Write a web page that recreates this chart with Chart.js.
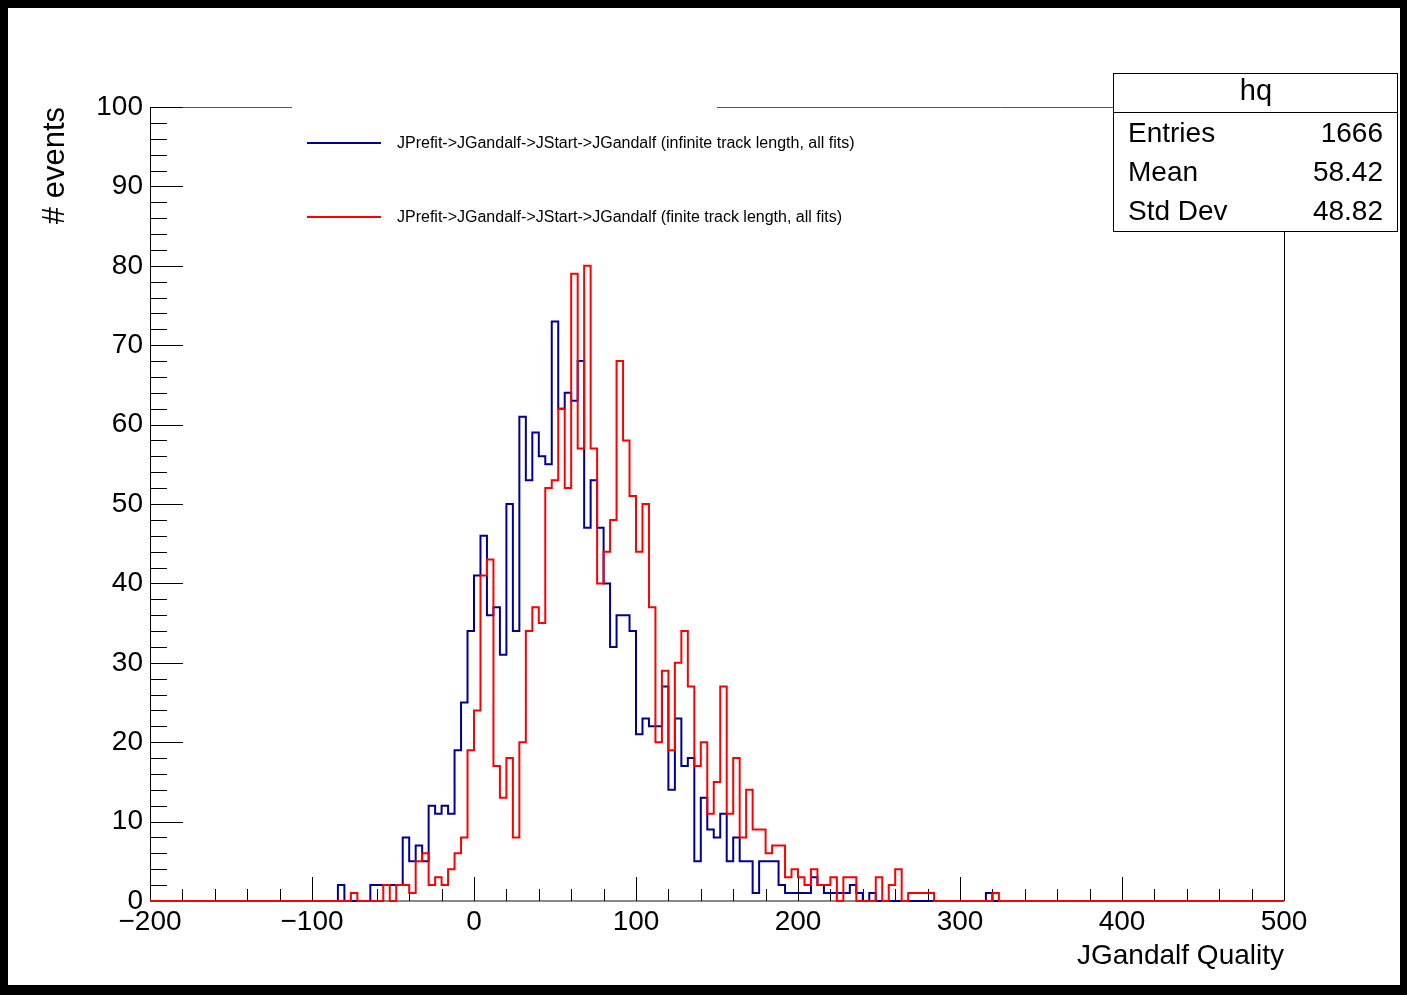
<!DOCTYPE html>
<html>
<head>
<meta charset="utf-8">
<script src="https://cdn.jsdelivr.net/npm/chart.js@4.4.1/dist/chart.umd.min.js"></script>
<style>
  html, body { margin: 0; padding: 0; background: #000; }
  canvas { display: block; }
</style>
</head>
<body>
<canvas id="c" width="1407" height="995"></canvas>
<script>
// histogram binning: 175 bins of 4 from -200 to 500
const binLow = -200;
const binWidth = 4;

const xTicks = [-200, -100, 0, 100, 200, 300, 400, 500];
const yTicks = [0, 10, 20, 30, 40, 50, 60, 70, 80, 90, 100];

const legendLabels = [
  "JPrefit->JGandalf->JStart->JGandalf (infinite track length, all fits)",
  "JPrefit->JGandalf->JStart->JGandalf (finite track length, all fits)"
];
const statsTitle = "hq";
const statsNames = ["Entries", "Mean", "Std Dev"];
const statsValues = ["1666", "58.42", "48.82"];

// counts per bin, one row = 25 bins = 100 units
const infiniteCounts = [
  0, 0, 0, 0, 0, 0, 0, 0, 0, 0, 0, 0, 0, 0, 0, 0, 0, 0, 0, 0, 0, 0, 0, 0, 0,
  0, 0, 0, 0, 2, 0, 0, 0, 0, 2, 2, 2, 2, 2, 8, 5, 7, 5, 12, 11, 12, 11, 19, 25, 34,
  41, 46, 36, 37, 31, 50, 34, 61, 53, 59, 56, 55, 73, 62, 64, 63, 68, 47, 53, 47, 40, 32, 36, 36, 34,
  21, 23, 22, 22, 27, 14, 23, 17, 18, 5, 13, 9, 8, 11, 5, 8, 5, 5, 1, 5, 5, 5, 2, 1, 1,
  1, 1, 3, 2, 1, 1, 1, 1, 2, 1, 0, 1, 0, 0, 0, 0, 0, 0, 0, 0, 0, 0, 0, 0, 0,
  0, 0, 0, 0, 1, 0, 0, 0, 0, 0, 0, 0, 0, 0, 0, 0, 0, 0, 0, 0, 0, 0, 0, 0, 0,
  0, 0, 0, 0, 0, 0, 0, 0, 0, 0, 0, 0, 0, 0, 0, 0, 0, 0, 0, 0, 0, 0, 0, 0, 0
];
const finiteCounts = [
  0, 0, 0, 0, 0, 0, 0, 0, 0, 0, 0, 0, 0, 0, 0, 0, 0, 0, 0, 0, 0, 0, 0, 0, 0,
  0, 0, 0, 0, 0, 0, 1, 0, 0, 0, 0, 2, 0, 2, 2, 1, 5, 6, 2, 3, 2, 4, 6, 8, 19,
  24, 41, 43, 17, 13, 18, 8, 20, 34, 37, 35, 52, 53, 62, 52, 79, 57, 80, 57, 40, 44, 48, 68, 58, 51,
  44, 50, 37, 20, 29, 19, 30, 34, 27, 17, 20, 11, 15, 27, 11, 18, 8, 14, 9, 9, 6, 7, 7, 3, 4,
  3, 2, 4, 2, 2, 3, 0, 3, 3, 0, 0, 0, 3, 0, 2, 4, 0, 1, 1, 1, 1, 0, 0, 0, 0,
  0, 0, 0, 0, 0, 1, 0, 0, 0, 0, 0, 0, 0, 0, 0, 0, 0, 0, 0, 0, 0, 0, 0, 0, 0,
  0, 0, 0, 0, 0, 0, 0, 0, 0, 0, 0, 0, 0, 0, 0, 0, 0, 0, 0, 0, 0, 0, 0, 0, 0
];

const FONT = "'Liberation Sans', Arial, sans-serif";
const BLUE = "#000099";
const RED = "#ff0000";

// outline of a histogram: two points per bin (left and right edge)
function histPoints(counts) {
  const pts = [];
  counts.forEach((c, i) => {
    const lo = binLow + i * binWidth;
    pts.push({ x: lo, y: c }, { x: lo + binWidth, y: c });
  });
  return pts;
}

function line(ctx, x1, y1, x2, y2) {
  ctx.beginPath();
  ctx.moveTo(x1, y1);
  ctx.lineTo(x2, y2);
  ctx.stroke();
}

const rootStyle = {
  id: "rootStyle",
  beforeDraw(chart) {
    const ctx = chart.ctx;
    ctx.save();
    ctx.fillStyle = "#000";
    ctx.fillRect(0, 0, chart.width, chart.height);
    ctx.fillStyle = "#fff";
    ctx.fillRect(8, 8, 1392, 977);
    ctx.restore();
  },
  beforeDatasetsDraw(chart) {
    const { ctx, chartArea: a, scales: { x, y } } = chart;
    ctx.save();
    // frame (top is hidden behind legend box between 292 and 717)
    ctx.lineWidth = 1;
    ctx.strokeStyle = "#555";
    line(ctx, a.left, a.top + 0.5, 292, a.top + 0.5);
    line(ctx, 717, a.top + 0.5, a.right, a.top + 0.5);
    ctx.strokeStyle = "#000";
    line(ctx, a.right + 0.5, a.top, a.right + 0.5, a.bottom);
    ctx.strokeStyle = "#888";
    ctx.lineWidth = 2;
    line(ctx, a.left, a.bottom, a.right, a.bottom);
    ctx.strokeStyle = "#000";
    ctx.lineWidth = 1;
    line(ctx, a.left + 0.5, a.top, a.left + 0.5, a.bottom);

    // ticks drawn inside the frame, ROOT style
    for (let v = xTicks[0]; v <= xTicks[xTicks.length - 1]; v += 20) {
      const px = Math.round(x.getPixelForValue(v)) + 0.5;
      const len = v % 100 === 0 ? 24 : 12;
      line(ctx, px, a.bottom, px, a.bottom - len);
    }
    for (let v = yTicks[0]; v <= yTicks[yTicks.length - 1]; v += 2) {
      const py = Math.round(y.getPixelForValue(v)) + 0.5;
      const len = v % 10 === 0 ? 33 : 17;
      line(ctx, a.left, py, a.left + len, py);
    }
    ctx.restore();
  },
  afterDraw(chart) {
    const ctx = chart.ctx;
    ctx.save();
    // legend
    const colors = [BLUE, RED];
    const rows = [143, 217];
    ctx.lineWidth = 2;
    ctx.font = "16px " + FONT;
    ctx.textBaseline = "middle";
    ctx.textAlign = "left";
    legendLabels.forEach((t, i) => {
      ctx.strokeStyle = colors[i];
      line(ctx, 307, rows[i], 381, rows[i]);
      ctx.fillStyle = "#000";
      ctx.fillText(t, 397, rows[i] + 1);
    });

    // stats box
    ctx.fillStyle = "#fff";
    ctx.fillRect(1113, 73, 284, 158);
    ctx.strokeStyle = "#000";
    ctx.lineWidth = 1;
    ctx.strokeRect(1113.5, 73.5, 284, 158);
    line(ctx, 1113, 112.5, 1397, 112.5);
    ctx.fillStyle = "#000";
    ctx.font = "29px " + FONT;
    ctx.textAlign = "center";
    ctx.fillText(statsTitle, 1256, 92);
    ctx.font = "28px " + FONT;
    const ys = [134, 173, 212];
    statsNames.forEach((n, i) => {
      ctx.textAlign = "left";
      ctx.fillText(n, 1128, ys[i]);
      ctx.textAlign = "right";
      ctx.fillText(statsValues[i], 1383, ys[i]);
    });
    ctx.restore();
  }
};

new Chart(document.getElementById("c"), {
  type: "line",
  data: {
    datasets: [
      { label: legendLabels[1], data: histPoints(finiteCounts), borderColor: RED, borderWidth: 2, order: 1 },
      { label: legendLabels[0], data: histPoints(infiniteCounts), borderColor: BLUE, borderWidth: 2, order: 2 }
    ]
  },
  options: {
    responsive: false,
    animation: false,
    devicePixelRatio: 1,
    parsing: true,
    elements: { point: { radius: 0 }, line: { tension: 0, fill: false } },
    datasets: { line: { clip: false } },
    layout: { padding: { left: 0, top: 107, right: 123, bottom: 0 } },
    plugins: { legend: { display: false }, tooltip: { enabled: false } },
    scales: {
      x: {
        type: "linear", min: -200, max: 500,
        afterBuildTicks: s => { s.ticks = xTicks.map(v => ({ value: v })); },
        afterFit: s => { s.height = 94; },
        grid: { display: false, drawTicks: false },
        border: { display: false },
        ticks: {
          color: "#000", font: { family: FONT, size: 28 }, padding: 4,
          maxRotation: 0, autoSkip: false,
          callback: v => v < 0 ? "\u2212" + (-v) : String(v)
        },
        title: {
          display: true, text: "JGandalf Quality", align: "end", color: "#000",
          font: { family: FONT, size: 28 }, padding: { top: 0, bottom: 22 }
        }
      },
      y: {
        type: "linear", min: 0, max: 100,
        afterBuildTicks: s => { s.ticks = yTicks.map(v => ({ value: v })); },
        afterFit: s => { s.width = 150; },
        grid: { display: false, drawTicks: false },
        border: { display: false },
        ticks: { color: "#000", font: { family: FONT, size: 28 }, padding: 7 },
        title: {
          display: true, text: "# events", align: "end", color: "#000",
          font: { family: FONT, size: 31 }, padding: { top: 37, bottom: 0 }
        }
      }
    }
  },
  plugins: [rootStyle]
});
</script>
</body>
</html>
